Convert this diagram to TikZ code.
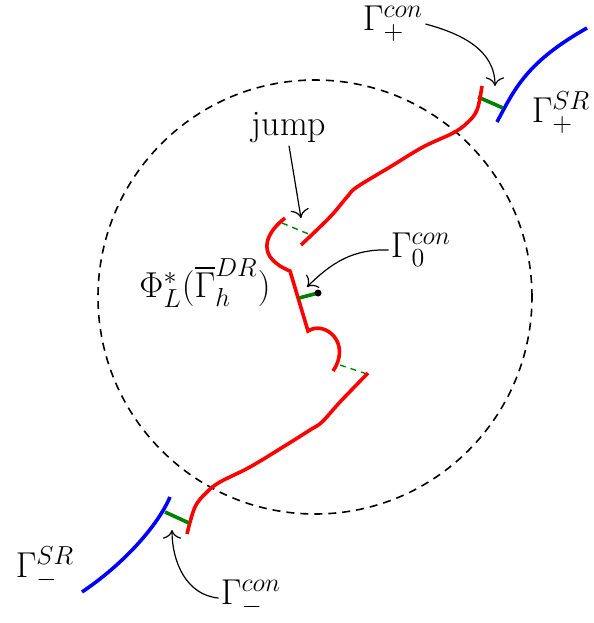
\RequirePackage{fix-cm}
\documentclass[tikz,border=0pt]{standalone}
\usepackage{amsmath}
\usetikzlibrary{arrows.meta}
\DeclareMathSizes{18}{18}{13}{10}
\tikzset{
  redpath/.style={red, line width=1.8pt},
  bluepath/.style={blue, line width=1.8pt},
  conline/.style={green!50!black, line width=1.8pt},
  jumpline/.style={green!50!black, line width=0.7pt, dash pattern=on 3pt off 2.5pt},
  pointer/.style={-{To[scale=1.5]}, line width=0.6pt},
  lab/.style={inner sep=1pt}
}
\begin{document}
\begin{tikzpicture}[x=0.5pt, y=0.5pt, font=\fontsize{18}{22}\selectfont]
    \useasboundingbox (0,0) rectangle (594,-623);

    % Dashed disc
    \draw[line width=0.8pt, dash pattern=on 4pt off 3pt] (315,-297) circle (217);

    % Upper part: blue, connecting piece, red
    \draw[bluepath] (497,-122) .. controls (515,-88) and (527,-62) .. (587,-28);
    \draw[conline] (478,-97) -- (503,-108);
    \draw[redpath] plot[smooth, tension=0.6] coordinates {(482,-86) (477,-110) (467,-123) (453,-133) (423,-147) (390,-167) (357,-187) (347,-197) (330,-217) (301,-245)};

    % Middle part with the two jumps
    \draw[jumpline] (282,-223) -- (311,-235);
    \draw[redpath, line join=miter] (285,-218) .. controls (262,-236) and (258,-258) .. (290,-271)
        -- (308,-331) .. controls (325,-320) and (352,-343) .. (333,-371);
    \draw[jumpline] (340,-365) -- (367,-374);
    \draw[conline] (299,-298) -- (318,-293);
    \fill (318,-293) circle (3.5);
    \coordinate (zerotip) at (307,-287);

    % Lower part: red, connecting piece, blue
    \draw[redpath] plot[smooth, tension=0.6] coordinates {(368,-373) (340,-402) (322,-422) (310,-430) (283,-447) (250,-467) (220,-482) (207,-492) (195,-507) (187,-534)};
    \draw[conline] (165,-512) -- (189,-523);
    \draw[bluepath] (170,-497) .. controls (158,-525) and (125,-563) .. (82,-592);

    % Labels
    \node[lab] (conplus) at (393,-24) {$\Gamma_+^{con}$};
    \node[lab] (srplus) at (561,-113) {$\Gamma_+^{SR}$};
    \node[lab] (jump) at (289,-128) {jump};
    \node[lab] (conzero) at (421,-250) {$\Gamma_0^{con}$};
    \node[lab] (image) at (205,-283) {$\Phi^*_L(\overline{\Gamma}_h^{DR})$};
    \node[lab] (srminus) at (45,-568) {$\Gamma_-^{SR}$};
    \node[lab] (conminus) at (251,-598) {$\Gamma_-^{con}$};

    \coordinate (plustip) at (495,-86);
    \coordinate (jumptip) at (301,-218);
    \coordinate (minustip) at (172,-530);

    % Pointers
    \draw[pointer] (conplus.east) to[out=-15, in=90] (plustip);
    \draw[pointer] (jump.south) -- (jumptip);
    \draw[pointer] (conzero.west) to[out=178, in=45] (zerotip);
    \draw[pointer] (conminus.west) to[out=175, in=-90] (minustip);
\end{tikzpicture}
\end{document}
